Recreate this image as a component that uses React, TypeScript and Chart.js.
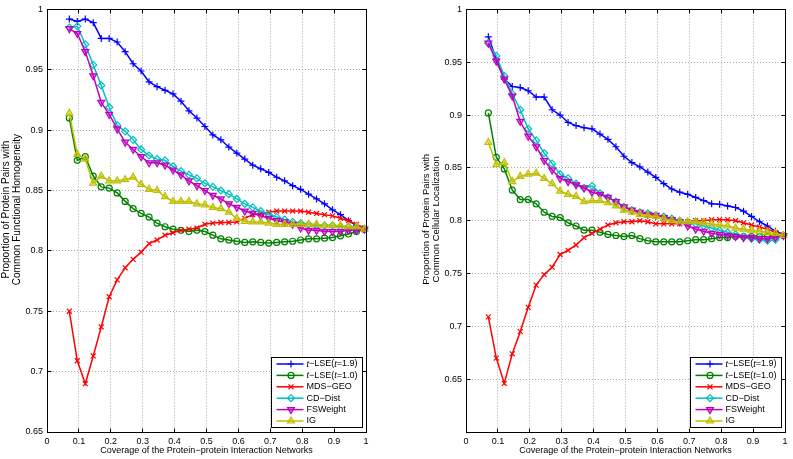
import React, { useEffect, useRef } from 'react';
import { Chart, registerables } from 'chart.js';
import { drawPoint } from 'chart.js/helpers';

Chart.register(...registerables);

// ---------- data ----------
const COVERAGE = [
  0.07, 0.095, 0.12, 0.145, 0.17, 0.195, 0.22, 0.245, 0.27, 0.295,
  0.32, 0.345, 0.37, 0.395, 0.42, 0.445, 0.47, 0.495, 0.52, 0.545,
  0.57, 0.595, 0.62, 0.645, 0.67, 0.695, 0.72, 0.745, 0.77, 0.795,
  0.82, 0.845, 0.87, 0.895, 0.92, 0.945, 0.97, 0.995,
];

// Left panel: Common Functional Homogeneity
const FUNC_TLSE_19 = [0.992, 0.990, 0.992, 0.989, 0.976, 0.976, 0.973, 0.965, 0.955, 0.949, 0.940, 0.936, 0.933, 0.930, 0.924, 0.916, 0.910, 0.903, 0.896, 0.892, 0.886, 0.881, 0.876, 0.871, 0.868, 0.865, 0.861, 0.858, 0.854, 0.851, 0.847, 0.843, 0.839, 0.834, 0.830, 0.825, 0.821, 0.818];
const FUNC_TLSE_10 = [0.910, 0.875, 0.878, 0.862, 0.853, 0.852, 0.848, 0.841, 0.835, 0.831, 0.828, 0.823, 0.820, 0.818, 0.817, 0.816, 0.817, 0.816, 0.813, 0.810, 0.809, 0.808, 0.807, 0.8075, 0.807, 0.8065, 0.807, 0.8075, 0.808, 0.809, 0.810, 0.810, 0.8105, 0.811, 0.8125, 0.814, 0.816, 0.818];
const FUNC_MDS_GEO = [0.750, 0.709, 0.690, 0.713, 0.737, 0.762, 0.776, 0.786, 0.793, 0.799, 0.806, 0.809, 0.813, 0.815, 0.817, 0.818, 0.819, 0.822, 0.823, 0.8235, 0.8235, 0.824, 0.827, 0.830, 0.831, 0.832, 0.833, 0.833, 0.833, 0.833, 0.832, 0.831, 0.830, 0.829, 0.827, 0.825, 0.822, 0.819];
const FUNC_CD_DIST = [0.985, 0.986, 0.971, 0.954, 0.937, 0.919, 0.904, 0.899, 0.892, 0.884, 0.879, 0.876, 0.875, 0.870, 0.866, 0.863, 0.860, 0.856, 0.853, 0.850, 0.847, 0.843, 0.839, 0.836, 0.833, 0.830, 0.828, 0.826, 0.824, 0.823, 0.822, 0.821, 0.821, 0.821, 0.820, 0.820, 0.819, 0.818];
const FUNC_FSWEIGHT = [0.984, 0.980, 0.965, 0.945, 0.923, 0.913, 0.901, 0.890, 0.884, 0.878, 0.873, 0.873, 0.871, 0.867, 0.863, 0.858, 0.854, 0.850, 0.846, 0.843, 0.839, 0.836, 0.833, 0.831, 0.829, 0.827, 0.825, 0.824, 0.822, 0.819, 0.817, 0.817, 0.816, 0.816, 0.816, 0.817, 0.817, 0.818];
const FUNC_IG = [0.914, 0.880, 0.876, 0.856, 0.862, 0.858, 0.858, 0.859, 0.861, 0.855, 0.851, 0.850, 0.845, 0.841, 0.841, 0.841, 0.839, 0.838, 0.836, 0.835, 0.832, 0.827, 0.8245, 0.824, 0.824, 0.823, 0.822, 0.822, 0.822, 0.822, 0.822, 0.822, 0.821, 0.821, 0.821, 0.820, 0.820, 0.818];

// Right panel: Common Cellular Localization
const LOC_TLSE_19 = [0.974, 0.953, 0.934, 0.927, 0.926, 0.923, 0.917, 0.917, 0.905, 0.900, 0.893, 0.890, 0.888, 0.887, 0.882, 0.877, 0.870, 0.861, 0.855, 0.851, 0.846, 0.841, 0.835, 0.830, 0.827, 0.825, 0.822, 0.819, 0.816, 0.8155, 0.814, 0.8125, 0.809, 0.804, 0.799, 0.795, 0.790, 0.787];
const LOC_TLSE_10 = [0.902, 0.860, 0.849, 0.829, 0.820, 0.820, 0.816, 0.808, 0.804, 0.803, 0.798, 0.795, 0.791, 0.791, 0.789, 0.787, 0.786, 0.785, 0.786, 0.783, 0.781, 0.780, 0.780, 0.780, 0.780, 0.781, 0.782, 0.782, 0.783, 0.784, 0.784, 0.785, 0.785, 0.785, 0.785, 0.785, 0.785, 0.786];
const LOC_MDS_GEO = [0.709, 0.670, 0.646, 0.674, 0.695, 0.718, 0.739, 0.749, 0.756, 0.768, 0.772, 0.777, 0.784, 0.788, 0.792, 0.796, 0.798, 0.799, 0.799, 0.800, 0.799, 0.797, 0.797, 0.797, 0.797, 0.799, 0.800, 0.800, 0.801, 0.801, 0.801, 0.800, 0.798, 0.796, 0.794, 0.792, 0.789, 0.786];
const LOC_CD_DIST = [0.968, 0.956, 0.937, 0.920, 0.905, 0.887, 0.876, 0.864, 0.854, 0.844, 0.840, 0.835, 0.831, 0.833, 0.826, 0.822, 0.818, 0.813, 0.810, 0.808, 0.807, 0.805, 0.804, 0.802, 0.800, 0.798, 0.797, 0.795, 0.793, 0.791, 0.789, 0.787, 0.785, 0.783, 0.782, 0.781, 0.782, 0.786];
const LOC_FSWEIGHT = [0.968, 0.951, 0.934, 0.918, 0.894, 0.880, 0.870, 0.857, 0.848, 0.840, 0.837, 0.834, 0.831, 0.827, 0.825, 0.822, 0.818, 0.813, 0.810, 0.808, 0.806, 0.805, 0.803, 0.801, 0.799, 0.795, 0.792, 0.790, 0.788, 0.787, 0.786, 0.785, 0.784, 0.784, 0.783, 0.783, 0.784, 0.786];
const LOC_IG = [0.874, 0.853, 0.855, 0.837, 0.842, 0.844, 0.845, 0.840, 0.835, 0.828, 0.825, 0.823, 0.818, 0.819, 0.819, 0.817, 0.814, 0.810, 0.808, 0.806, 0.805, 0.804, 0.802, 0.800, 0.799, 0.799, 0.799, 0.798, 0.797, 0.796, 0.795, 0.793, 0.792, 0.791, 0.790, 0.789, 0.788, 0.786];

const SERIES_NAMES = ['t−LSE(t=1.9)', 't−LSE(t=1.0)', 'MDS−GEO', 'CD−Dist', 'FSWeight', 'IG'];
const X_TITLE = 'Coverage of the Protein−protein Interaction Networks';
const Y_TITLE_FUNC = ['Proportion of Protein Pairs with', 'Common Functional Homogeneity'];
const Y_TITLE_LOC = ['Proportion of Protein Pairs with', 'Common Cellular Localization'];

// ---------- styles ----------
const FONT = "'Liberation Sans', Arial, Helvetica, sans-serif";
const COLORS = ['#0000ff', '#008000', '#ff0000', '#00bfbf', '#bf00bf', '#bfbf00'];
const FILLS = ['rgba(0,0,0,0)', 'rgba(0,0,0,0)', 'rgba(0,0,0,0)', 'rgba(0,0,0,0)', 'rgba(191,0,191,0.45)', 'rgba(191,191,0,0.45)'];
const MARKERS = ['cross', 'circle', 'crossRot', 'rectRot', 'triangle', 'triangle'];
const MARKER_ROT = [0, 0, 0, 0, 180, 0];
const MARKER_R = [3.5, 3, 3.5, 3.5, 4, 4];

const fmt = (v: number) => String(parseFloat(Number(v).toFixed(2)));
const align = (p: number) => Math.round(p - 0.5) + 0.5;

const framePlugin = {
  id: 'matlabFrame',
  afterDatasetsDraw(chart: any) {
    const { ctx, chartArea: a } = chart;
    const xs = chart.scales.x;
    const ys = chart.scales.y;
    const L = align(a.left), R = align(a.right), T = align(a.top), B = align(a.bottom);
    ctx.save();
    ctx.strokeStyle = '#000';
    ctx.lineWidth = 1;
    ctx.setLineDash([]);
    ctx.strokeRect(L, T, R - L, B - T);
    const tl = 4;
    ctx.beginPath();
    xs.ticks.forEach((t: any) => {
      const px = align(xs.getPixelForValue(t.value));
      ctx.moveTo(px, B); ctx.lineTo(px, B - tl);
      ctx.moveTo(px, T); ctx.lineTo(px, T + tl);
    });
    ys.ticks.forEach((t: any) => {
      const py = align(ys.getPixelForValue(t.value));
      ctx.moveTo(L, py); ctx.lineTo(L + tl, py);
      ctx.moveTo(R, py); ctx.lineTo(R - tl, py);
    });
    ctx.stroke();
    ctx.restore();
  },
};

function drawRich(ctx: CanvasRenderingContext2D, text: string, x: number, y: number) {
  const parts = text.startsWith('t−')
    ? text.split(/(t)/).filter((s) => s.length > 0).map((s) => ({ s, it: s === 't' }))
    : [{ s: text, it: false }];
  let cx = x;
  parts.forEach((p) => {
    ctx.font = (p.it ? 'italic ' : '') + '9px ' + FONT;
    ctx.fillText(p.s, cx, y);
    cx += ctx.measureText(p.s).width;
  });
}

const legendPlugin = {
  id: 'boxLegend',
  afterDraw(chart: any) {
    const { ctx, chartArea: a } = chart;
    const w = 91, h = 70;
    const left = Math.round(a.right - 4 - w) + 0.5;
    const top = Math.round(a.bottom - 5 - h) + 0.5;
    ctx.save();
    ctx.setLineDash([]);
    ctx.fillStyle = '#fff';
    ctx.fillRect(left, top, w, h);
    ctx.strokeStyle = '#000';
    ctx.lineWidth = 1;
    ctx.strokeRect(left, top, w, h);
    chart.data.datasets.forEach((ds: any, k: number) => {
      const y = top + 6.5 + 11.4 * k;
      ctx.strokeStyle = ds.borderColor;
      ctx.lineWidth = ds.borderWidth;
      ctx.beginPath();
      ctx.moveTo(left + 5, y);
      ctx.lineTo(left + 32, y);
      ctx.stroke();
      ctx.fillStyle = ds.pointBackgroundColor;
      ctx.strokeStyle = ds.pointBorderColor;
      ctx.lineWidth = ds.pointBorderWidth;
      drawPoint(ctx, { pointStyle: ds.pointStyle, rotation: ds.pointRotation, radius: ds.pointRadius, borderWidth: ds.pointBorderWidth } as any, left + 19.5, y);
      ctx.fillStyle = '#000';
      ctx.textBaseline = 'middle';
      ctx.textAlign = 'left';
      drawRich(ctx, ds.label, left + 35, y);
    });
    ctx.restore();
  },
};

function buildConfig(
  series: number[][], yMin: number, yTitle: string[], yWidth: number, padRight: number,
  titlePad: number, titleSize: number, titleLead: number
): any {
  const gridOpts = { color: '#a8a8a8', lineWidth: 1, drawTicks: false };
  const borderOpts = { display: false, dash: [1, 2] };
  return {
    type: 'line',
    data: {
      datasets: series.map((vals, k) => ({
        label: SERIES_NAMES[k],
        data: COVERAGE.map((x, i) => ({ x, y: vals[i] })),
        borderColor: COLORS[k],
        backgroundColor: FILLS[k],
        borderWidth: 1.5,
        pointStyle: MARKERS[k],
        pointRotation: MARKER_ROT[k],
        pointRadius: MARKER_R[k],
        pointBorderWidth: 1.2,
        pointBorderColor: COLORS[k],
        pointBackgroundColor: FILLS[k],
        tension: 0,
        fill: false,
        clip: false,
        order: 6 - k,
      })),
    },
    options: {
      animation: false,
      responsive: false,
      devicePixelRatio: 1,
      layout: { padding: { left: 0, right: padRight, top: 6, bottom: 0 } },
      plugins: { legend: { display: false }, tooltip: { enabled: false } },
      scales: {
        x: {
          type: 'linear',
          min: 0,
          max: 1,
          ticks: {
            stepSize: 0.1, autoSkip: false, maxRotation: 0, padding: 4, color: '#000',
            font: { family: FONT, size: 9 },
            callback: (v: number) => fmt(v),
          },
          grid: gridOpts,
          border: borderOpts,
          title: {
            display: true, text: X_TITLE, color: '#000',
            font: { family: FONT, size: 9 },
            padding: { top: 0, bottom: 2.6 },
          },
          afterFit: (s: any) => { s.height = 27; },
        },
        y: {
          type: 'linear',
          min: yMin,
          max: 1,
          ticks: {
            stepSize: 0.05, autoSkip: false, maxRotation: 0, padding: 4, color: '#000',
            font: { family: FONT, size: 9 },
            callback: (v: number) => (yMin < 0.649 && Math.abs(v - yMin) < 1e-6 ? '' : fmt(v)),
          },
          grid: gridOpts,
          border: borderOpts,
          title: {
            display: true,
            text: yTitle.map((s) => ' '.repeat(titleLead) + s),
            color: '#000',
            font: { family: FONT, size: titleSize, lineHeight: 1.06 },
            padding: { top: titlePad, bottom: 0 },
          },
          afterFit: (s: any) => { s.width = yWidth; },
        },
      },
    },
    plugins: [framePlugin, legendPlugin],
  };
}

export default function App() {
  const leftRef = useRef<HTMLCanvasElement>(null);
  const rightRef = useRef<HTMLCanvasElement>(null);

  useEffect(() => {
    const left = new Chart(
      leftRef.current as HTMLCanvasElement,
      buildConfig([FUNC_TLSE_19, FUNC_TLSE_10, FUNC_MDS_GEO, FUNC_CD_DIST, FUNC_FSWEIGHT, FUNC_IG], 0.65, Y_TITLE_FUNC, 47, 30, 1.4, 10, 8)
    );
    const right = new Chart(
      rightRef.current as HTMLCanvasElement,
      buildConfig([LOC_TLSE_19, LOC_TLSE_10, LOC_MDS_GEO, LOC_CD_DIST, LOC_FSWEIGHT, LOC_IG], 0.6, Y_TITLE_LOC, 70, 8, 25.7, 9.5, 1)
    );
    return () => {
      left.destroy();
      right.destroy();
    };
  }, []);

  return (
    <div style={{ position: 'absolute', left: 0, top: 0, width: 793, height: 459, background: '#fff' }}>
      <canvas ref={leftRef} width={396} height={459} style={{ position: 'absolute', left: 0, top: 0, width: 396, height: 459 }} />
      <canvas ref={rightRef} width={397} height={459} style={{ position: 'absolute', left: 396, top: 0, width: 397, height: 459 }} />
    </div>
  );
}
